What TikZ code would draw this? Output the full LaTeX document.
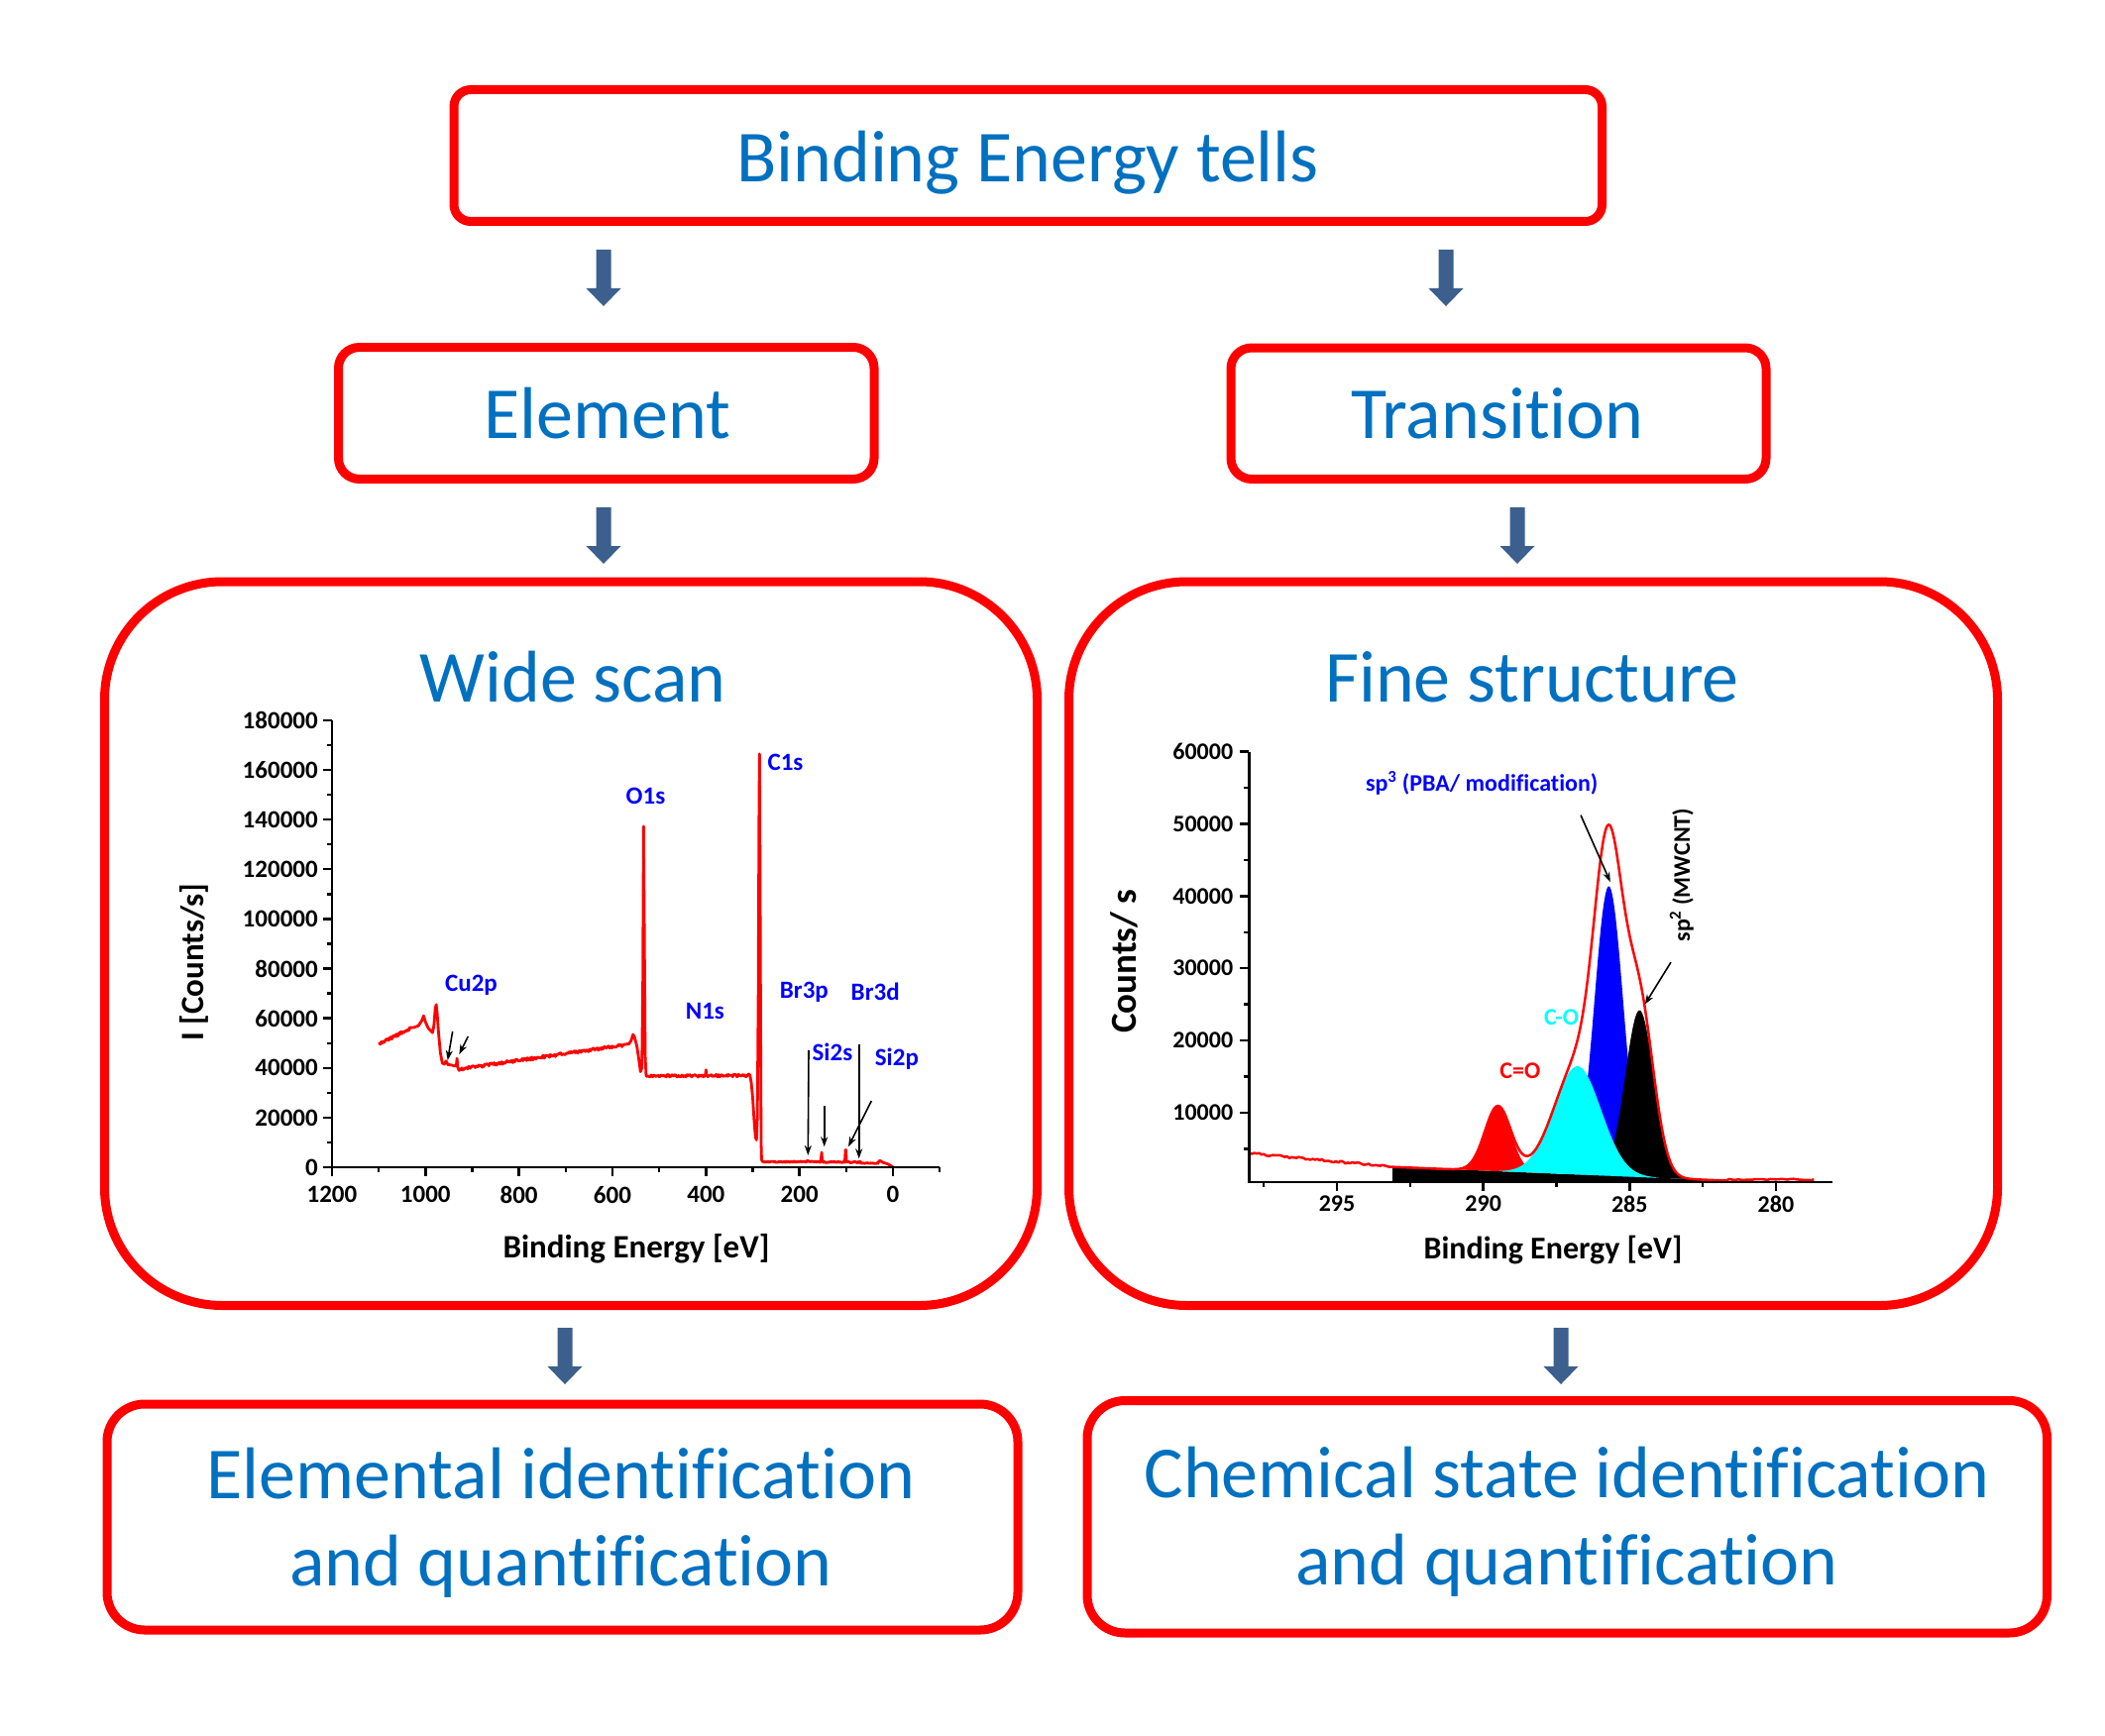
\documentclass[tikz,border=0pt]{standalone}
\usepackage{fontspec}
\setmainfont{Carlito}[Ligatures={NoCommon}]
\usetikzlibrary{arrows.meta}
\definecolor{boxblue}{HTML}{0070C0}
\definecolor{arrowblue}{HTML}{3C5F8D}
\definecolor{pcyan}{RGB}{0,255,255}
\definecolor{pblue}{RGB}{0,0,255}
\definecolor{pred}{RGB}{255,0,0}
\begin{document}
\begin{tikzpicture}[x=1pt,y=-1pt,
  declare function={Bf(\u)=0.6+(\u+8.3)*0.1667;},
  box/.style={draw=pred, line width=9pt, inner sep=0pt, outer sep=0pt},
  bigtxt/.style={text=boxblue, font=\fontsize{74}{88}\selectfont, inner sep=0pt, anchor=base},
  barrow/.pic={\fill[arrowblue] (-7.5,0) -- (7.5,0) -- (7.5,39) -- (17.5,39) -- (0,57) -- (-17.5,39) -- (-7.5,39) -- cycle;},
  spec/.style={pred, line width=2.8pt, line join=round},
  axisline/.style={black, line width=2.4pt},
  ticklbl/.style={font=\fontsize{25}{30}\selectfont\bfseries, inner sep=0pt},
  fticklbl/.style={font=\fontsize{24}{29}\selectfont\bfseries, inner sep=0pt},
  peaklbl/.style={text=pblue, font=\fontsize{25}{30}\selectfont\bfseries, inner sep=0pt},
  fpeaklbl/.style={font=\fontsize{24}{29}\selectfont\bfseries, inner sep=0pt},
  axtitle/.style={font=\fontsize{33}{38}\selectfont\bfseries, inner sep=0pt},
  thinarrow/.style={black, line width=1.6pt, -{Stealth[length=10pt,width=7pt]}}]
\useasboundingbox (0,0) rectangle (2124,1752);
\fill[white] (0,0) rectangle (2124,1752);
\pgfmathsetseed{7}

% ---------- boxes ----------
\node[box, minimum width=1158.5pt, minimum height=133pt, rounded corners=17pt] (top) at (1037.25,157) {};
\node[box, minimum width=540.5pt, minimum height=133pt, rounded corners=21pt] (elem) at (611.75,417) {};
\node[box, minimum width=540pt, minimum height=132.5pt, rounded corners=21pt] (trans) at (1512,417.25) {};
\node[box, minimum width=941pt, minimum height=730.5pt, rounded corners=119pt] (wide) at (576,952.25) {};
\node[box, minimum width=937pt, minimum height=730.5pt, rounded corners=119pt] (fine) at (1547,952.25) {};
\node[box, minimum width=919pt, minimum height=228pt, rounded corners=38pt] (bl) at (567.5,1531) {};
\node[box, minimum width=968.5pt, minimum height=234.5pt, rounded corners=38pt] (br) at (1581.25,1530.75) {};

\node[bigtxt] (ttop) at (1037,183.5) {Binding Energy tells};
\node[bigtxt] (telem) at (613,442) {Element};
\node[bigtxt] (ttrans) at (1511,442) {Transition};
\node[bigtxt] (twide) at (578,708) {Wide scan};
\node[bigtxt] (tfine) at (1546,708) {Fine structure};
\node[bigtxt] (tbl1) at (566,1512) {Elemental identification};
\node[bigtxt] (tbl2) at (566,1600) {and quantification};
\node[bigtxt] (tbr1) at (1581,1511) {Chemical state identification};
\node[bigtxt] (tbr2) at (1581,1599) {and quantification};

% ---------- block arrows ----------
\coordinate (a1) at (609,252);
\coordinate (a2) at (1459,252);
\coordinate (a3) at (609,512);
\coordinate (a4) at (1531,512);
\coordinate (a5) at (570,1340);
\coordinate (a6) at (1575,1340);
\foreach \a in {a1,a2,a3,a4,a5,a6} \pic at (\a) {barrow};

% ---------- wide scan plot ----------
\begin{scope}[shift={(901,1178)}, x={(-0.4717pt,0pt)}, y={(0pt,2.506pt)}]
  \draw[spec] (1100,49.5)
    -- plot[domain=1098:1032, samples=60] (\x,{49.5+(1100-\x)*0.095+0.55*rand})
    -- (1025,56.3) -- (1015,57) -- (1008,59) -- (1004,61) -- (1000,58.5) -- (994,56) -- (989,55)
    -- (985,54.2) -- (982,57) -- (979,64) -- (977,65.5) -- (975,62) -- (972,54) -- (968,46)
    -- (964,42) -- (960,41.5) -- (956,42.8) -- (952,41.3) -- (945,41.2) -- (938,40.8) -- (934,41)
    -- (932.5,43.8) -- (931,40.2)
    -- plot[domain=928:565, samples=200] (\x,{39.5+(928-\x)*0.0275+0.6*rand})
    -- (560,51) -- (556,53.5) -- (553,52.5) -- (548,49) -- (544,44) -- (540,38.5) -- (537,40)
    -- (535,75) -- (533.5,137.3) -- (532,100) -- (530,45) -- (528,37) -- (525,36.5)
    -- plot[domain=523:403, samples=70] (\x,{36.8+0.5*rand})
    -- (401,37.5) -- (400,39.2) -- (399,37.3)
    -- plot[domain=397:315, samples=48] (\x,{36.9+0.5*rand})
    -- (312,36.8) -- (309,37.6) -- (306,37.2) -- (303,34) -- (300,28) -- (297,19) -- (294,12)
    -- (292,11) -- (290,20) -- (288,70) -- (286.5,140) -- (285.5,166.5) -- (284.8,150)
    -- (283.5,80) -- (282,10) -- (281,3) -- (279,2.3)
    -- plot[domain=277:186, samples=50] (\x,{2.2+0.25*rand})
    -- (183,2.7) -- (181,2.5)
    -- plot[domain=179:155, samples=13] (\x,{2.2+0.25*rand})
    -- (153.5,4) -- (152.5,6) -- (151.5,3)
    -- plot[domain=149:103, samples=25] (\x,{2.1+0.25*rand})
    -- (101.5,7) -- (100.5,7) -- (99.5,2.5)
    -- plot[domain=98:72, samples=14] (\x,{2.0+0.25*rand})
    -- (70,2.3)
    -- plot[domain=68:32, samples=20] (\x,{1.6+0.2*rand})
    -- (30,2.5) -- (27,2.6) -- (24,2.2) -- (20,1.8) -- (12,1.4) -- (6,0.8) -- (2,0.3) -- (0,0);
  % axes
  \draw[axisline] (1200,180) -- (1200,0) -- (-100,0);
  \foreach \v in {0,20,...,180} {
    \draw[axisline] (1200,\v) -- ++(-9pt,0pt);
    \node[ticklbl, anchor=east] at ([xshift=-14pt]1200,\v) {\ifnum\v=0 0\else\v000\fi};
  }
  \foreach \v in {10,30,...,170} \draw[axisline] (1200,\v) -- ++(-5pt,0pt);
  \foreach \v in {1200,1000,...,0} {
    \draw[axisline] (\v,0) -- ++(0pt,-9pt);
    \node[ticklbl, anchor=north] at ([yshift=-19pt]\v,0) {\v};
  }
  \foreach \v in {1100,900,...,-100} \draw[axisline] (\v,0) -- ++(0pt,-5pt);
  % peak labels
  \node[peaklbl] (lc1s) at (230,163) {C1s};
  \node[peaklbl] (lo1s) at (529,149.5) {O1s};
  \node[peaklbl] (lcu) at (902,73.3) {Cu2p};
  \node[peaklbl] (ln1s) at (402,63) {N1s};
  \node[peaklbl] (lbr3p) at (190,70.6) {Br3p};
  \node[peaklbl] (lbr3d) at (37.7,70.6) {Br3d};
  \node[peaklbl] (lsi2s) at (129.5,46.3) {Si2s};
  \node[peaklbl] (lsi2p) at (-8.3,43.6) {Si2p};
  % annotation arrows
  \draw[thinarrow] (942,54.7) coordinate (w1s) -- (952.5,43.1) coordinate (w1e);
  \draw[thinarrow] (908.8,52.7) coordinate (w2s) -- (927.9,45.5) coordinate (w2e);
  \draw[thinarrow] (180.2,47.1) coordinate (w3s) -- (181.7,4.8) coordinate (w3e);
  \draw[thinarrow] (146.9,24.9) coordinate (w4s) -- (146.9,8.3) coordinate (w4e);
  \draw[thinarrow] (46,26.7) coordinate (w5s) -- (95.4,8.3) coordinate (w5e);
  \draw[thinarrow] (72.7,49.4) coordinate (w6s) -- (72.7,3.5) coordinate (w6e);
\end{scope}
\node[axtitle] (wxt) at (642,1260) {Binding Energy [eV]};
\node[axtitle, rotate=90] (wyt) at (196,971) {I [Counts/s]};

% ---------- fine structure plot ----------
\begin{scope}[shift={(1496.65,1195.9)}, x={(-29.53pt,0pt)}, y={(0pt,7.29pt)}]
  \fill[black] (3.1,0.4) -- (3.1,2.5) -- (-8.4,0.58) -- (-8.4,0.4) -- cycle;
  \fill[pblue] plot[domain=-2.8:-5.8, samples=60] (\x,{Bf(\x)+40.1*exp(0-((\x+4.29)^2)/0.477)})
     -- plot[domain=-5.8:-2.8, samples=2] (\x,{Bf(\x)}) -- cycle;
  \fill[black] plot[domain=-3.8:-6.9, samples=60] (\x,{Bf(\x)+23.1*exp(0-((\x+5.34)^2)/0.477)})
     -- plot[domain=-6.9:-3.8, samples=2] (\x,{Bf(\x)}) -- cycle;
  \fill[pred] plot[domain=1.05:-2.05, samples=60] (\x,{Bf(\x)+9*exp(0-((\x+0.5)^2)/0.398)})
     -- plot[domain=-2.05:1.05, samples=2] (\x,{Bf(\x)}) -- cycle;
  \fill[pcyan] plot[domain=-0.55:-5.9, samples=70] (\x,{Bf(\x)+15*exp(0-((\x+3.22)^2)/1.302)})
     -- plot[domain=-5.9:-0.55, samples=2] (\x,{Bf(\x)}) -- cycle;
  \draw[spec, line width=2.5pt] (8,4.4)
    -- plot[domain=7.9:3.2, samples=60] (\x,{2.5+(\x-3.1)*0.388+0.15*rand})
    -- plot[domain=3.1:-8.3, samples=240] (\x,{Bf(\x)+9*exp(0-((\x+0.5)^2)/0.398)+15*exp(0-((\x+3.22)^2)/1.302)+40.1*exp(0-((\x+4.29)^2)/0.477)+23.1*exp(0-((\x+5.34)^2)/0.477)})
    -- plot[domain=-8.4:-11.3, samples=30] (\x,{0.75+0.1*rand});
  % axes
  \draw[axisline] (8,60) -- (8,0.4) -- (-11.93,0.4);
  \foreach \v in {10,20,...,60} {
    \draw[axisline] (8,\v) -- ++(-9pt,0pt);
    \node[fticklbl, anchor=east] at ([xshift=-16pt]8,\v) {\v000};
  }
  \foreach \v in {5,15,...,55} \draw[axisline] (8,\v) -- ++(-5pt,0pt);
  \foreach \u/\t in {5/295,0/290,-5/285,-10/280} {
    \draw[axisline] (\u,0.4) -- ++(0pt,-9pt);
    \node[fticklbl, anchor=north] at ([yshift=-14pt]\u,0.4) {\t};
  }
  \foreach \u in {7.5,2.5,-2.5,-7.5} \draw[axisline] (\u,0.4) -- ++(0pt,-5pt);
  % labels
  \node[fpeaklbl, text=pblue] (lsp3) at (0.05,55.6) {sp\textsuperscript{3} (PBA/ modification)};
  \node[fpeaklbl, rotate=90] (lsp2) at (-6.78,42.9) {sp\textsuperscript{2} (MWCNT)};
  \node[fpeaklbl, text=pcyan] (lco) at (-2.67,23.25) {C-O};
  \node[fpeaklbl, text=pred] (lcdo) at (-1.26,15.76) {C=O};
  \draw[thinarrow] (-3.33,51.2) coordinate (f1s) -- (-4.34,41.95) coordinate (f1e);
  \draw[thinarrow] (-6.41,30.83) coordinate (f2s) -- (-5.52,25.0) coordinate (f2e);
\end{scope}
\node[axtitle, font=\fontsize{32}{37}\selectfont\bfseries] (fxt) at (1567,1262) {Binding Energy [eV]};
\node[axtitle, font=\fontsize{37}{42}\selectfont\bfseries, rotate=90] (fyt) at (1134,970) {Counts/ s};
\end{tikzpicture}
\end{document}
